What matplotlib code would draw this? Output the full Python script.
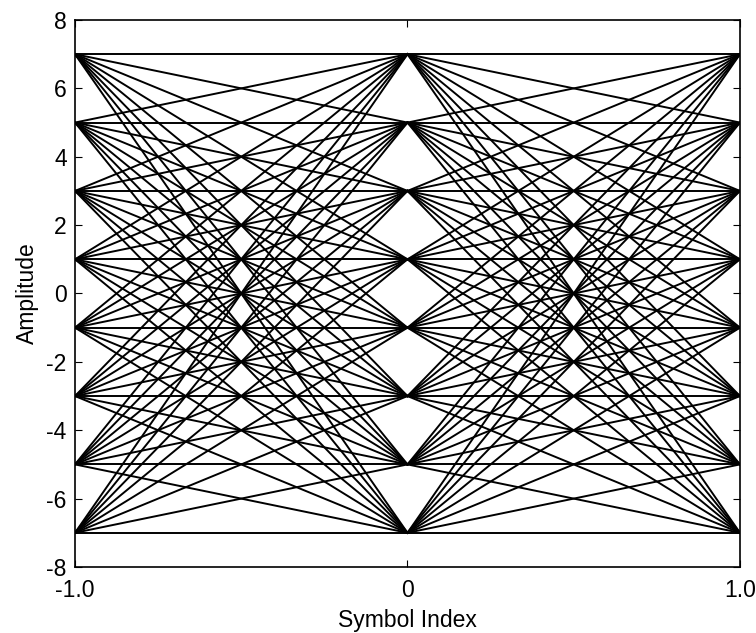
import matplotlib
matplotlib.use("Agg")
import matplotlib.pyplot as plt

plt.rcParams['font.family'] = ['Liberation Sans', 'DejaVu Sans']
plt.rcParams['axes.unicode_minus'] = False

# 8-PAM symbol amplitudes and sampling instants
levels = [-7, -5, -3, -1, 1, 3, 5, 7]
symbol_times = [-1.0, 0.0, 1.0]
x_ticks = [-1.0, 0.0, 1.0]
x_tick_labels = ['-1.0', '0', '1.0']
y_ticks = [-8, -6, -4, -2, 0, 2, 4, 6, 8]

fig = plt.figure(figsize=(7.56, 6.33), dpi=100)
ax = fig.add_axes([0.0992, 0.1043, 0.8796, 0.8641])

# every transition between consecutive symbol instants
for t0, t1 in zip(symbol_times[:-1], symbol_times[1:]):
    for a in levels:
        for b in levels:
            ax.plot([t0, t1], [a, b], color='black', linewidth=1.4)

ax.set_xlim(-1, 1)
ax.set_ylim(-8, 8)
ax.set_xticks(x_ticks)
ax.set_xticklabels(x_tick_labels)
ax.set_yticks(y_ticks)
ax.tick_params(direction='in', top=True, right=True, labelsize=16.5, length=5)
ax.tick_params(axis='x', pad=9)
ax.tick_params(axis='y', pad=6)
for s in ax.spines.values():
    s.set_linewidth(1.2)
ax.set_xlabel('Symbol Index', fontsize=16.5, labelpad=5)
ax.set_ylabel('Amplitude', fontsize=16.5, labelpad=5)

fig.savefig('out.png', dpi=100)
